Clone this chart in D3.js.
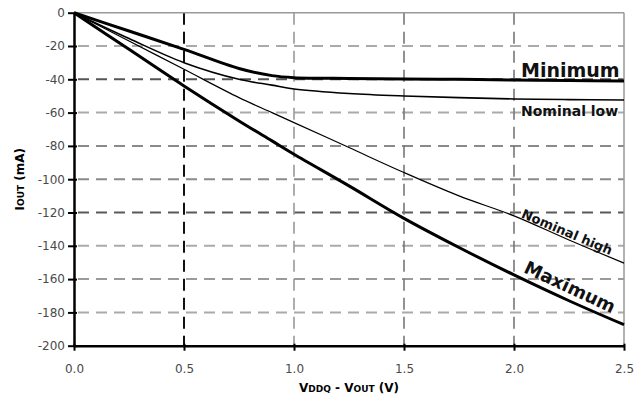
<!DOCTYPE html>
<html>
<head>
<meta charset="utf-8">
<script src="https://cdn.jsdelivr.net/npm/d3@7"></script>
<style>
  html, body { margin: 0; padding: 0; background: #fff; }
  svg { display: block; }
</style>
</head>
<body>
<svg id="chart" width="634" height="400"></svg>
<script>
// ---- data ----
const voltage = [0, 0.25, 0.5, 0.75, 0.9, 1.0, 1.25, 1.5, 1.75, 2.0, 2.25, 2.5];
const minimum = [0, -11, -22, -33.5, -37.8, -39, -39.5, -39.8, -40, -40.4, -40.7, -41];
const nominalLow = [0, -15.5, -30, -40, -43.5, -45.8, -48.5, -50, -51, -51.8, -52.2, -52.4];
const nominalHigh = [0, -17, -34, -51, -60, -66, -81, -96, -110, -122, -136.5, -150.4];
const maximum = [0, -22, -44, -65, -77, -85, -104, -123.5, -141, -157.5, -173, -187.4];
const xTicks = [0, 0.5, 1.0, 1.5, 2.0, 2.5];
const yTicks = [0, -20, -40, -60, -80, -100, -120, -140, -160, -180, -200];

// ---- layout ----
const svg = d3.select("#chart");
const pL = 74, pT = 12.7, pR = 624, pB = 345.7;
const x = d3.scaleLinear().domain([0, 2.5]).range([pL, pR]);
const y = d3.scaleLinear().domain([-200, 0]).range([pB, pT]);
const font = "'DejaVu Sans', Verdana, sans-serif";

// horizontal grid
const hColor = v => ({"-40": "#555", "-120": "#5a5a5a", "-80": "#8a8a8a", "-100": "#8a8a8a", "-160": "#9a9a9a"}[String(v)] || "#aaa");
svg.append("g").selectAll("line")
  .data(yTicks.filter(v => v !== 0 && v !== -200))
  .join("line")
  .attr("x1", pL).attr("x2", pR)
  .attr("y1", d => y(d)).attr("y2", d => y(d))
  .attr("stroke", d => hColor(d))
  .attr("stroke-width", 2)
  .attr("stroke-dasharray", "11,7")
  .attr("stroke-dashoffset", -4);

// vertical grid
const vColor = v => ({"0.5": "#111", "1": "#999", "1.5": "#777", "2": "#777"}[String(v)] || "#999");
svg.append("g").selectAll("line")
  .data(xTicks.filter(v => v !== 0 && v !== 2.5))
  .join("line")
  .attr("x1", d => x(d)).attr("x2", d => x(d))
  .attr("y1", pT).attr("y2", pB)
  .attr("stroke", d => vColor(d))
  .attr("stroke-width", d => d === 0.5 ? 2 : 1.6)
  .attr("stroke-dasharray", "12,7");

// top and right borders
svg.append("line").attr("x1", pL).attr("x2", pR).attr("y1", pT).attr("y2", pT)
  .attr("stroke", "#999").attr("stroke-width", 1.5);
svg.append("line").attr("x1", pR).attr("x2", pR).attr("y1", pT).attr("y2", pB)
  .attr("stroke", "#999").attr("stroke-width", 1.5);

// axes
const yAxis = d3.axisLeft(y).tickValues(yTicks).tickSize(6).tickSizeOuter(0).tickPadding(3)
  .tickFormat(d => String(d));
const gy = svg.append("g").attr("transform", `translate(${pL},0)`).call(yAxis);
const xAxis = d3.axisBottom(x).tickValues(xTicks).tickSize(5).tickSizeOuter(0).tickPadding(14)
  .tickFormat(d => d.toFixed(1));
const gx = svg.append("g").attr("transform", `translate(0,${pB})`).call(xAxis);

[gx, gy].forEach(g => {
  g.select(".domain").attr("stroke", "#000").attr("stroke-width", 2.5);
  g.selectAll(".tick line").attr("stroke", "#000").attr("stroke-width", 2);
  g.selectAll(".tick text").attr("fill", "#4a4a4a").style("font-family", font).style("font-size", "12px");
});
gy.selectAll(".tick line").attr("x2", 3).attr("x1", -6);
gx.selectAll(".tick line").attr("y1", -2).attr("y2", 5);

// curves
const line = d3.line().x(d => x(d[0])).y(d => y(d[1])).curve(d3.curveCatmullRom.alpha(0.5));
const series = [
  {v: nominalHigh, w: 1.2},
  {v: nominalLow, w: 1.6},
  {v: minimum, w: 3},
  {v: maximum, w: 3}
];
svg.append("g").selectAll("path")
  .data(series)
  .join("path")
  .attr("d", s => line(voltage.map((vv, i) => [vv, s.v[i]])))
  .attr("fill", "none")
  .attr("stroke", "#000")
  .attr("stroke-width", s => s.w)
  .attr("stroke-linejoin", "round");

// curve labels
svg.append("text").attr("x", 521).attr("y", 77)
  .style("font-family", font).style("font-size", "19px").style("font-weight", "bold")
  .attr("fill", "#111").text("Minimum");
svg.append("text").attr("x", 521).attr("y", 116)
  .style("font-family", font).style("font-size", "14px").style("font-weight", "bold")
  .attr("fill", "#111").text("Nominal low");
svg.append("text").attr("transform", "translate(567,232) rotate(23)")
  .attr("text-anchor", "middle").attr("dy", "0.35em")
  .style("font-family", font).style("font-size", "13px").style("font-weight", "bold")
  .attr("fill", "#111").text("Nominal high");
svg.append("text").attr("transform", "translate(570,287) rotate(25)")
  .attr("text-anchor", "middle").attr("dy", "0.35em")
  .style("font-family", font).style("font-size", "18px").style("font-weight", "bold")
  .attr("fill", "#111").text("Maximum");

// axis titles
const xt = svg.append("text").attr("x", (pL + pR) / 2).attr("y", 392)
  .attr("text-anchor", "middle")
  .style("font-family", font).style("font-size", "12px").style("font-weight", "bold");
xt.append("tspan").text("V");
xt.append("tspan").style("font-size", "9px").text("DDQ");
xt.append("tspan").text(" - V");
xt.append("tspan").style("font-size", "9px").text("OUT");
xt.append("tspan").text(" (V)");

const yt = svg.append("text").attr("transform", `translate(24,${(pT + pB) / 2}) rotate(-90)`)
  .attr("text-anchor", "middle")
  .style("font-family", font).style("font-size", "12px").style("font-weight", "bold");
yt.append("tspan").text("I");
yt.append("tspan").style("font-size", "9px").text("OUT");
yt.append("tspan").text(" (mA)");
</script>
</body>
</html>
